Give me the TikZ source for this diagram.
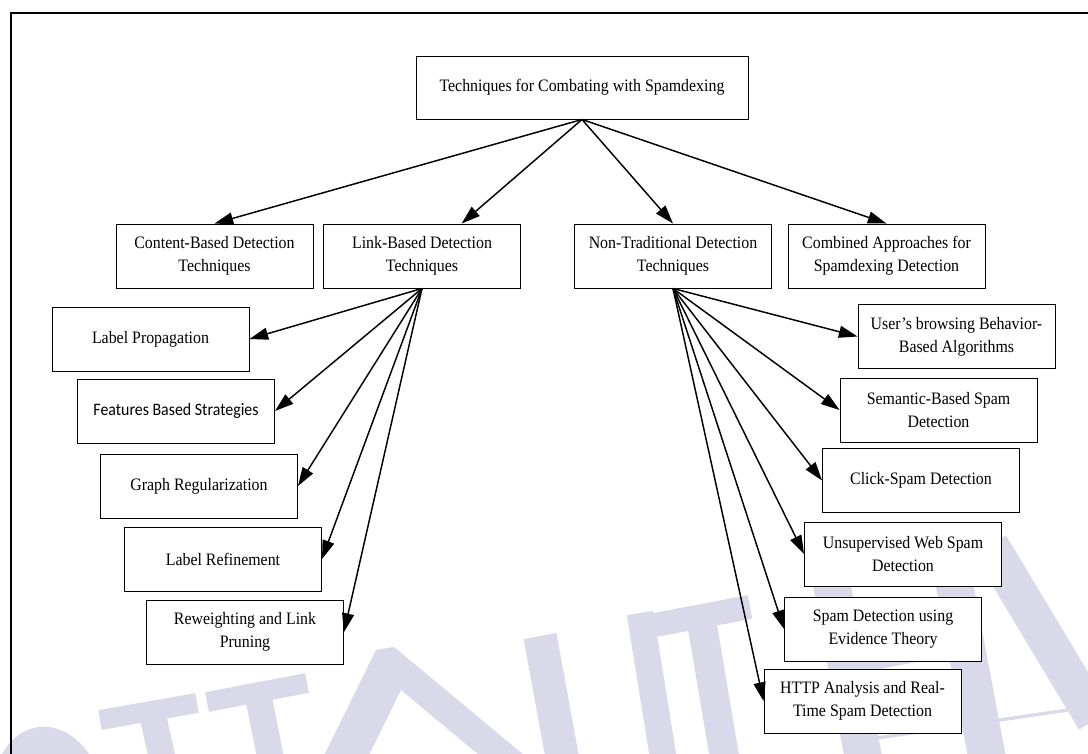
\documentclass[tikz,border=0pt]{standalone}
\usepackage{fontspec}
\setmainfont[FakeStretch=0.91]{Liberation Serif}
\newfontfamily\calibrifont[FakeStretch=0.91]{Carlito}
\usetikzlibrary{arrows.meta,calc}
\definecolor{wmcol}{RGB}{217,217,233}
\begin{document}
\begin{tikzpicture}[x=0.75pt,y=-0.75pt,
  box/.style={draw=black, line width=0.7pt, fill=white, align=center,
    minimum width=147.75pt, minimum height=48pt, inner sep=2pt,
    font=\fontsize{13.1}{17.5}\selectfont},
  arr/.style={line width=1.1pt, -{Triangle[length=14pt,width=9pt]}},
  wmstroke/.style={draw=wmcol, line cap=butt}]
\useasboundingbox (0,0) rectangle (1088,753);
\clip (0,0) rectangle (1088,753);
% watermark
\draw[wmstroke, line width=24pt] (8,790) .. controls (15,727) and (70,727) .. (88,790);
\draw[wmstroke, line width=15pt] (100,720) -- (197,703);
\draw[wmstroke, line width=20pt] (152,712) -- (178,830);
\draw[wmstroke, line width=15pt] (207,702) -- (307,683);
\draw[wmstroke, line width=20pt] (258,695) -- (285,830);
\fill[wmcol] (302,800) -- (376,650) -- (394,647) -- (578,800) -- (533,800) -- (401,690) -- (347,800) -- cycle;
\draw[wmstroke, line width=25pt] (540,636) -- (570,800);
\draw[wmstroke, line width=20pt] (640,613) -- (670,800);
\draw[wmstroke, line width=18pt] (655,625) -- (750,607);
\draw[wmstroke, line width=22pt] (700,612) -- (730,790);
\draw[wmstroke, line width=28pt] (831,580) -- (871,800);
\draw[wmstroke, line width=28pt] (948,550) -- (995,800);
\draw[wmstroke, line width=20pt] (845,662) -- (945,643);
\draw[wmstroke, line width=28pt] (990,545) -- (1095,720);
\draw[wmstroke, line width=2.5pt] (857,741) -- (1095,706);
% frame
\draw[line width=1.5pt] (11,13) rectangle (1120,790);
% nodes
\node[box, minimum width=249pt, minimum height=47.25pt] (root) at (582,87.5) {Techniques for Combating with Spamdexing};
\node[box] (content) at (214.5,256) {Content-Based Detection\\Techniques};
\node[box] (link) at (422,256) {Link-Based Detection\\Techniques};
\node[box] (nontrad) at (673,256) {Non-Traditional Detection\\Techniques};
\node[box] (combined) at (886.5,256) {Combined Approaches for\\Spamdexing Detection};
\node[box] (labelprop) at (150.5,339) {Label Propagation};
\node[box, font=\calibrifont\fontsize{13.1}{17.5}\selectfont] (features) at (176,411) {Features Based Strategies};
\node[box] (graphreg) at (199,486) {Graph Regularization};
\node[box] (labelref) at (223,559) {Label Refinement};
\node[box] (reweight) at (245,632) {Reweighting and Link\\Pruning};
\node[box] (user) at (956.5,336.5) {User’s browsing Behavior-\\Based Algorithms};
\node[box] (semantic) at (938.5,410) {Semantic-Based Spam\\Detection};
\node[box] (click) at (921,480.5) {Click-Spam Detection};
\node[box] (unsup) at (903,554) {Unsupervised Web Spam\\Detection};
\node[box] (evidence) at (883,629) {Spam Detection using\\Evidence Theory};
\node[box] (http) at (862.5,701) {HTTP Analysis and Real-\\Time Spam Detection};
% connectors
\draw[arr] (root.south) -- (content.north);
\draw[arr] (root.south) -- ($(link.north west)!0.7!(link.north east)$);
\draw[arr] (root.south) -- (nontrad.north);
\draw[arr] (root.south) -- (combined.north);
\foreach \t in {labelprop,features,graphreg,labelref,reweight}
  \draw[arr] (link.south) -- (\t.east);
\foreach \t in {user,semantic,click,unsup,evidence,http}
  \draw[arr] (nontrad.south) -- (\t.west);
\end{tikzpicture}
\end{document}
